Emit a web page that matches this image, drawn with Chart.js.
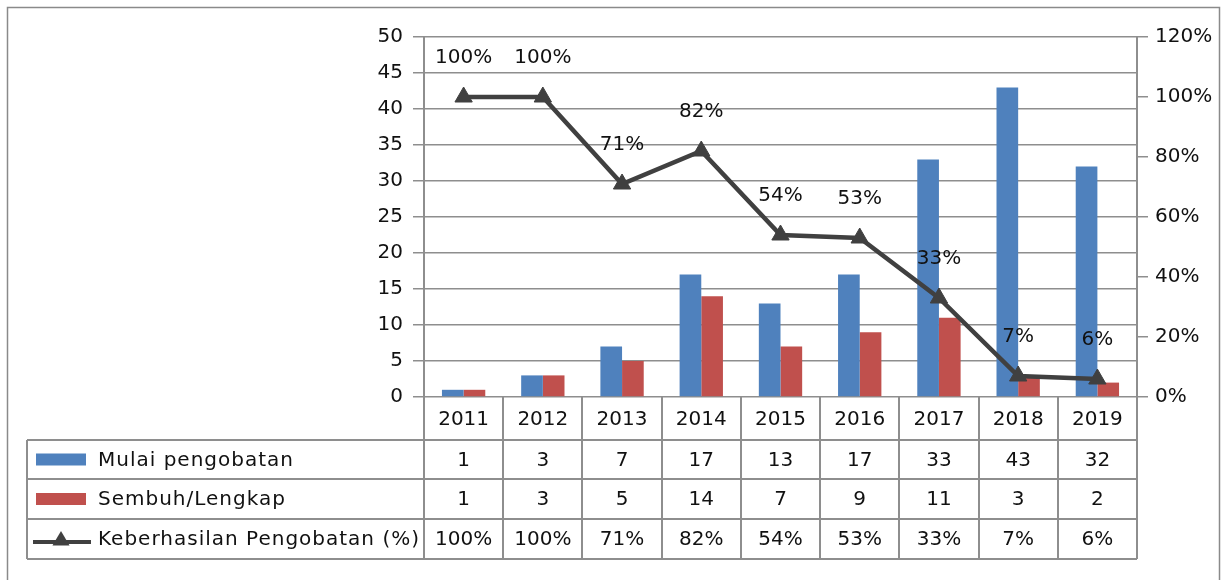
<!DOCTYPE html>
<html>
<head>
<meta charset="utf-8">
<script src="https://cdn.jsdelivr.net/npm/chart.js@4"></script>
<style>
  body { margin: 0; background: #fff; }
  #wrap { width: 1225px; height: 580px; }
</style>
</head>
<body>
<div id="wrap"><canvas id="chart" width="1225" height="580"></canvas></div>
<script>
// data
var years = ['2011', '2012', '2013', '2014', '2015', '2016', '2017', '2018', '2019'];
var mulai = [1, 3, 7, 17, 13, 17, 33, 43, 32];
var sembuh = [1, 3, 5, 14, 7, 9, 11, 3, 2];
var keberhasilan = [100, 100, 71, 82, 54, 53, 33, 7, 6];
var seriesNames = ['Mulai pengobatan', 'Sembuh/Lengkap', 'Keberhasilan Pengobatan (%)'];

var BLUE = '#4F81BD', RED = '#C0504D', LINE = '#404040', GRID = '#8e8e8e', TEXT = '#111';
var FONT = '20px "DejaVu Sans"';
Chart.defaults.font.family = 'DejaVu Sans';
Chart.defaults.font.size = 20;
Chart.defaults.color = TEXT;

function drawTriangle(ctx, x, y, r) {
	ctx.beginPath();
	ctx.moveTo(x, y - r);
	ctx.lineTo(x + r * 0.95, y + r * 0.6);
	ctx.lineTo(x - r * 0.95, y + r * 0.6);
	ctx.closePath();
	ctx.fill();
}

// percent labels above the line points
var lineLabels = {
	id: 'lineLabels',
	afterDatasetsDraw: function (chart) {
		var ctx = chart.ctx;
		var meta = chart.getDatasetMeta(2);
		ctx.save();
		ctx.fillStyle = TEXT;
		ctx.font = FONT;
		ctx.textAlign = 'center';
		ctx.textBaseline = 'middle';
		meta.data.forEach(function (pt, i) {
			ctx.fillText(keberhasilan[i] + '%', pt.x, pt.y - 39);
		});
		ctx.restore();
	}
};

// data table under the x axis + outer border
var dataTable = {
	id: 'dataTable',
	afterDraw: function (chart) {
		var ctx = chart.ctx;
		var xs = chart.scales.x;
		var area = chart.chartArea;
		var catW = (xs.right - xs.left) / years.length;
		var tableLeft = 27;
		var rows = [area.bottom, 440, 479, 519, 559];

		ctx.save();
		ctx.strokeStyle = GRID;
		ctx.lineWidth = 2;
		ctx.beginPath();
		for (var i = 0; i <= years.length; i++) {
			var bx = Math.round(xs.left + i * catW);
			ctx.moveTo(bx, rows[0]);
			ctx.lineTo(bx, rows[4]);
		}
		ctx.moveTo(tableLeft, rows[1]);
		ctx.lineTo(tableLeft, rows[4]);
		for (var r = 1; r < rows.length; r++) {
			ctx.moveTo(tableLeft, rows[r]);
			ctx.lineTo(xs.right, rows[r]);
		}
		ctx.stroke();

		// values
		ctx.fillStyle = TEXT;
		ctx.font = FONT;
		ctx.textAlign = 'center';
		ctx.textBaseline = 'middle';
		var table = [mulai, sembuh, keberhasilan.map(function (v) { return v + '%'; })];
		table.forEach(function (vals, r) {
			var cy = (rows[r + 1] + rows[r + 2]) / 2 + 1;
			vals.forEach(function (v, i) {
				ctx.fillText(String(v), xs.getPixelForValue(i), cy);
			});
		});

		// legend keys
		ctx.textAlign = 'left';
		var c1 = (rows[1] + rows[2]) / 2, c2 = (rows[2] + rows[3]) / 2, c3 = (rows[3] + rows[4]) / 2;
		ctx.fillStyle = BLUE;
		ctx.fillRect(36, c1 - 6, 50, 12);
		ctx.fillStyle = RED;
		ctx.fillRect(36, c2 - 6, 50, 12);
		ctx.strokeStyle = LINE;
		ctx.lineWidth = 4;
		ctx.beginPath();
		ctx.moveTo(33, c3 + 3);
		ctx.lineTo(91, c3 + 3);
		ctx.stroke();
		ctx.fillStyle = LINE;
		drawTriangle(ctx, 61, c3 + 1, 9);
		ctx.fillStyle = TEXT;
		ctx.letterSpacing = '1px';
		ctx.fillText(seriesNames[0], 98, c1 + 1);
		ctx.fillText(seriesNames[1], 98, c2 + 1);
		ctx.fillText(seriesNames[2], 98, c3 + 1);
		ctx.letterSpacing = '0px';

		// outer border
		ctx.strokeStyle = '#8a8a8a';
		ctx.lineWidth = 1.5;
		ctx.strokeRect(7.5, 7.5, 1212, 620);
		ctx.restore();
	}
};

new Chart(document.getElementById('chart'), {
	type: 'bar',
	data: {
		labels: years,
		datasets: [
			{
				label: seriesNames[0],
				data: mulai,
				backgroundColor: BLUE,
				yAxisID: 'y',
				order: 2,
			},
			{
				label: seriesNames[1],
				data: sembuh,
				backgroundColor: RED,
				yAxisID: 'y',
				order: 2,
			},
			{
				type: 'line',
				label: seriesNames[2],
				data: keberhasilan,
				borderColor: LINE,
				borderWidth: 4.5,
				backgroundColor: LINE,
				pointStyle: 'triangle',
				pointRadius: 10,
				pointBackgroundColor: LINE,
				pointBorderColor: LINE,
				pointBorderWidth: 1,
				tension: 0,
				yAxisID: 'y1',
				order: 0,
			},
		],
	},
	options: {
		responsive: false,
		animation: false,
		layout: { padding: { top: 37, left: 0, right: 0, bottom: 0 } },
		datasets: {
			bar: { categoryPercentage: 0.547, barPercentage: 1 },
		},
		plugins: {
			legend: { display: false },
			tooltip: { enabled: false },
		},
		scales: {
			x: {
				grid: { display: false, drawTicks: false },
				border: { display: false },
				ticks: { padding: 11, maxRotation: 0 },
				afterFit: function (s) { s.height = 183; },
			},
			y: {
				position: 'left',
				min: 0,
				max: 50,
				ticks: { stepSize: 5, padding: 10 },
				grid: { color: GRID, lineWidth: 1.5, tickLength: 11 },
				border: { display: true, color: GRID, width: 2 },
				afterFit: function (s) { s.width = 424; },
			},
			y1: {
				position: 'right',
				min: 0,
				max: 120,
				ticks: {
					stepSize: 20,
					padding: 7,
					callback: function (v) { return v + '%'; },
				},
				grid: { drawOnChartArea: false, color: GRID, lineWidth: 1.5, tickLength: 11 },
				border: { display: true, color: GRID, width: 2 },
				afterFit: function (s) { s.width = 88; },
			},
		},
	},
	plugins: [lineLabels, dataTable],
});
</script>
</body>
</html>
